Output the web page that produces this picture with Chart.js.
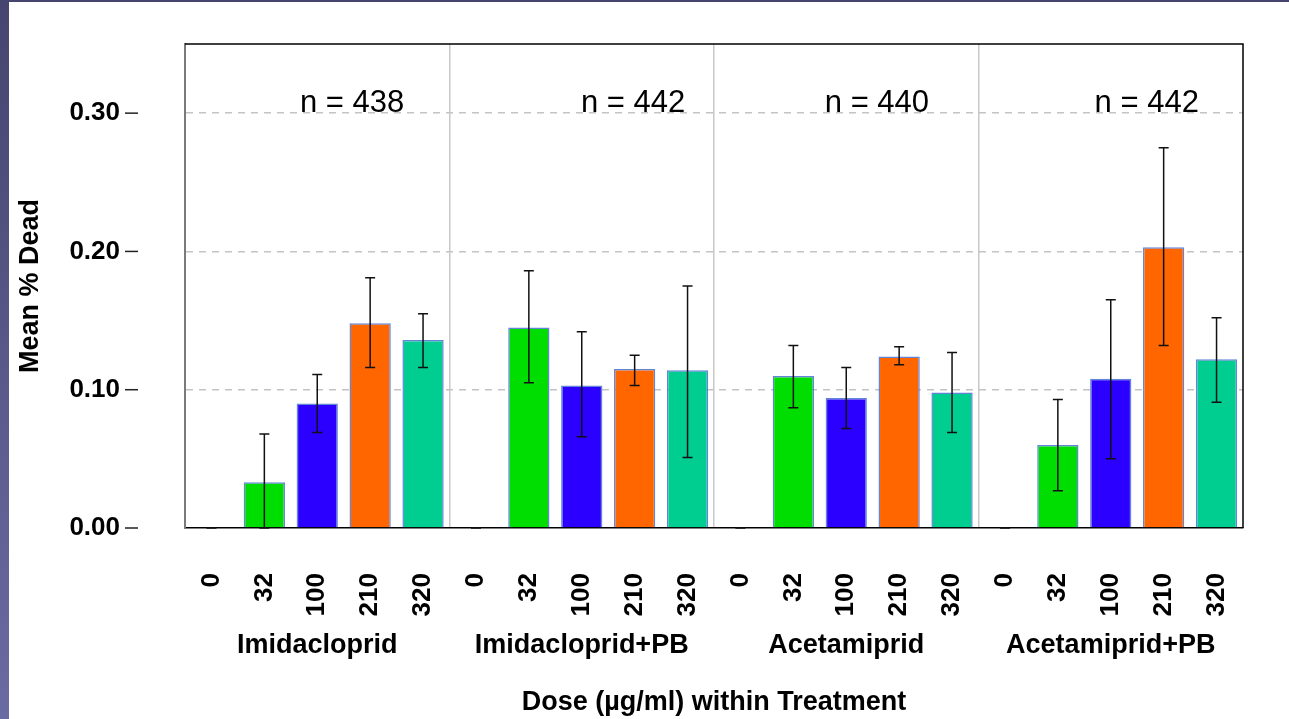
<!DOCTYPE html>
<html>
<head>
<meta charset="utf-8">
<script src="https://cdn.jsdelivr.net/npm/chart.js@4/dist/chart.umd.min.js"></script>
<style>
  html, body { margin: 0; padding: 0; }
  body { width: 1289px; height: 719px; overflow: hidden; background: linear-gradient(to bottom, #45456f, #6b6ba3); }
  #wrap { position: absolute; left: 9px; top: 2px; width: 1280px; height: 717px; background: #fff; }
</style>
</head>
<body>
<div id="wrap"><canvas id="c" width="1280" height="717"></canvas></div>
<script>
const doses = ['0', '32', '100', '210', '320'];
const treatments = ['Imidacloprid', 'Imidacloprid+PB', 'Acetamiprid', 'Acetamiprid+PB'];
const nLabels = ['n = 438', 'n = 442', 'n = 440', 'n = 442'];

// mean % dead, one row per treatment, one value per dose
const imidacloprid   = [0, 0.033, 0.090, 0.148, 0.136];
const imidaclopridPB = [0, 0.145, 0.103, 0.115, 0.114];
const acetamiprid    = [0, 0.110, 0.094, 0.124, 0.098];
const acetamipridPB  = [0, 0.060, 0.108, 0.203, 0.122];

// error bar lows / highs
const errLow  = [0, 0.000, 0.069, 0.116, 0.116,  0, 0.105, 0.066, 0.103, 0.051,
                 0, 0.087, 0.072, 0.118, 0.069,  0, 0.027, 0.050, 0.132, 0.091];
const errHigh = [0, 0.068, 0.111, 0.181, 0.155,  0, 0.186, 0.142, 0.125, 0.175,
                 0, 0.132, 0.116, 0.131, 0.127,  0, 0.093, 0.165, 0.275, 0.152];

// where the "n = ..." notes sit (category index) and their height
const nLabelPos = [2.66, 7.97, 12.58, 17.68];
const nLabelY = 0.307;

const doseColors = ['transparent', '#00dd00', '#2b00ff', '#ff6600', '#00cd90'];

const labels = [];
treatments.forEach(() => doses.forEach(d => labels.push(d)));
const means = [].concat(imidacloprid, imidaclopridPB, acetamiprid, acetamipridPB);
const colors = labels.map((_, i) => doseColors[i % 5]);
const borders = labels.map((_, i) => i % 5 === 0 ? 'transparent' : 'rgba(70,110,210,0.85)');

const FONT = '"Liberation Sans", Arial, Helvetica, sans-serif';

// big tick paddings otherwise leak into the layout padding
const noEdgePad = s => { s.paddingTop = 0; s.paddingBottom = 0; s.paddingLeft = 0; s.paddingRight = 0; };

const extras = {
  id: 'extras',
  afterDatasetsDraw(chart) {
    const { ctx, chartArea: a, scales } = chart;
    const x = scales.x, y = scales.y;
    const meta = chart.getDatasetMeta(0);
    ctx.save();

    // error bars
    ctx.strokeStyle = '#111';
    ctx.lineWidth = 1.5;
    meta.data.forEach((bar, i) => {
      const yl = y.getPixelForValue(errLow[i]);
      const yh = y.getPixelForValue(errHigh[i]);
      ctx.beginPath();
      ctx.moveTo(bar.x, yl); ctx.lineTo(bar.x, yh);
      ctx.moveTo(bar.x - 5, yl); ctx.lineTo(bar.x + 5, yl);
      ctx.moveTo(bar.x - 5, yh); ctx.lineTo(bar.x + 5, yh);
      ctx.stroke();
    });

    // top / right frame
    ctx.strokeStyle = '#000';
    ctx.lineWidth = 1.5;
    ctx.beginPath();
    ctx.moveTo(a.left, a.top); ctx.lineTo(a.right, a.top); ctx.lineTo(a.right, a.bottom);
    ctx.stroke();

    // y tick dashes, detached from the axis
    ctx.strokeStyle = '#222';
    y.ticks.forEach(t => {
      const py = y.getPixelForValue(t.value);
      ctx.beginPath();
      ctx.moveTo(a.left - 60, py); ctx.lineTo(a.left - 47, py);
      ctx.stroke();
    });

    // n = ... notes
    ctx.fillStyle = '#000';
    ctx.font = '31px ' + FONT;
    ctx.textAlign = 'center';
    ctx.textBaseline = 'middle';
    nLabels.forEach((s, i) => {
      ctx.fillText(s, x.getPixelForValue(nLabelPos[i]), y.getPixelForValue(nLabelY));
    });
    ctx.restore();
  }
};

new Chart(document.getElementById('c'), {
  type: 'bar',
  data: {
    labels: labels,
    datasets: [{
      data: means,
      backgroundColor: colors,
      borderColor: borders,
      borderWidth: 1.5,
      borderSkipped: 'bottom',
      barPercentage: 0.78,
      categoryPercentage: 1
    }]
  },
  options: {
    responsive: false,
    animation: false,
    layout: { padding: { top: 42, right: 46, bottom: 0, left: 0 } },
    plugins: { legend: { display: false }, tooltip: { enabled: false } },
    scales: {
      x: {
        position: 'bottom',
        offset: true,
        grid: {
          offset: true,
          drawTicks: false,
          lineWidth: 1.5,
          color: c => (c.index > 0 && c.index < 20 && c.index % 5 === 0) ? '#c8c8c8' : 'transparent'
        },
        border: { color: '#000', width: 1.5 },
        ticks: {
          autoSkip: false, maxRotation: 90, minRotation: 90, padding: 45,
          color: '#000', font: { family: FONT, size: 26, weight: 'bold' }
        },
        afterFit: s => { s.height = 89; noEdgePad(s); }
      },
      x2: {
        type: 'category',
        labels: treatments,
        position: 'bottom',
        offset: true,
        grid: { display: false, drawTicks: false },
        border: { display: false },
        ticks: { padding: 12, color: '#000', font: { family: FONT, size: 27, weight: 'bold' } },
        title: {
          display: true,
          text: 'Dose (µg/ml) within Treatment',
          color: '#000',
          font: { family: FONT, size: 27, weight: 'bold' },
          padding: { top: 0, bottom: 0 }
        },
        afterFit: s => { s.height = 102; noEdgePad(s); }
      },
      y: {
        min: 0,
        max: 0.35,
        afterBuildTicks: s => { s.ticks = s.ticks.filter(t => t.value <= 0.3001); },
        grid: {
          drawTicks: false,
          lineWidth: 1.5,
          color: c => (c.tick && c.tick.value > 0) ? '#c4c4c4' : 'transparent'
        },
        border: { color: '#7a7a7a', width: 2, dash: [7, 6] },
        ticks: {
          stepSize: 0.1,
          padding: 65,
          color: '#000',
          font: { family: FONT, size: 26, weight: 'bold' },
          callback: v => Number(v).toFixed(2)
        },
        title: {
          display: true,
          text: 'Mean % Dead',
          color: '#000',
          font: { family: FONT, size: 27, weight: 'bold' },
          padding: { top: 5, bottom: 0 }
        },
        afterFit: s => { s.width = 176; noEdgePad(s); }
      }
    }
  },
  plugins: [extras]
});
</script>
</body>
</html>
